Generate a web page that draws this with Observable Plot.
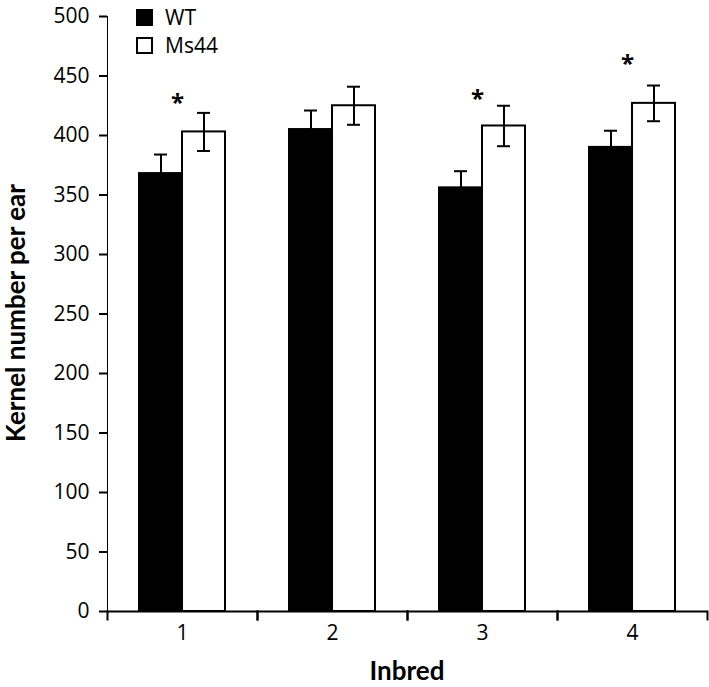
<!DOCTYPE html>
<html><head><meta charset="utf-8">
<script src="https://cdn.jsdelivr.net/npm/d3@7"></script>
<script src="https://cdn.jsdelivr.net/npm/@observablehq/plot@0.6"></script>
<style>
body{margin:0;background:#fff;}
#wrap{position:relative;width:709px;height:687px;background:#fff;}
#wrap svg{position:absolute;left:0;top:0;}
#wrap svg [aria-label^="y-axis"] path,#wrap svg [aria-label^="y-axis"] line{stroke-width:2px;stroke:#000;}
.ytitle{position:absolute;left:15px;top:313px;transform:translate(-50%,-50%) rotate(-90deg);font:bold 26px Lato;white-space:nowrap;line-height:1;color:#000;}
.xtitle{position:absolute;left:407px;top:670px;transform:translate(-50%,-50%);font:bold 26px Lato;line-height:1;white-space:nowrap;color:#000;}
.legend{position:absolute;left:136px;top:3px;font:21px "Open Sans";color:#000;}
.item{display:flex;align-items:center;height:28.5px;line-height:1;}
.sw{width:17px;height:17px;box-sizing:border-box;border:2px solid #000;margin-right:12px;}
</style></head><body><div id="wrap"></div>
<script>
const categories = ["1", "2", "3", "4"];
const series = ["WT", "Ms44"];
const wtMean = [368, 405, 356, 390];
const wtSE = [16, 16, 14, 14];
const ms44Mean = [403, 425, 408, 427];
const ms44SE = [16, 16, 17, 15];
const starCategories = ["1", "3", "4"];
const starY = [427, 430, 460];
const yTicks = [0, 50, 100, 150, 200, 250, 300, 350, 400, 450, 500];
const seriesFill = ["#000000", "#ffffff"];
const xTitle = "Inbred";
const yTitle = "Kernel number per ear";

const means = {WT: wtMean, Ms44: ms44Mean};
const ses = {WT: wtSE, Ms44: ms44SE};
const rows = categories.flatMap((c, i) => series.map(s => ({cat: c, series: s, mean: means[s][i], se: ses[s][i]})));
const stars = starCategories.map((c, i) => ({cat: c, y: starY[i]}));

const plot = Plot.plot({
  width: 709, height: 687,
  marginTop: 16, marginBottom: 76, marginLeft: 107, marginRight: 2,
  style: {fontFamily: "'Open Sans'", fontSize: "21px", color: "#000", background: "#fff"},
  fx: {domain: categories, padding: 0, axis: "bottom", label: null, tickSize: 0, tickPadding: 14},
  x: {domain: series, paddingInner: 0, paddingOuter: 0.72, axis: null},
  y: {domain: [0, 500], ticks: yTicks, tickSize: 8, tickPadding: 10, line: true, label: null},
  color: {domain: series, range: seriesFill},
  marks: [
    Plot.barY(rows, {fx: "cat", x: "series", y: "mean", fill: "series", stroke: "#000", strokeWidth: 2, inset: 0}),
    Plot.ruleX(rows, {fx: "cat", x: "series", y1: d => d.mean - d.se, y2: d => d.mean + d.se, stroke: "#000", strokeWidth: 2}),
    Plot.tickY(rows, {fx: "cat", x: "series", y: d => d.mean + d.se, inset: 15, stroke: "#000", strokeWidth: 2}),
    Plot.tickY(rows, {fx: "cat", x: "series", y: d => d.mean - d.se, inset: 15, stroke: "#000", strokeWidth: 2}),
    Plot.ruleY([0], {stroke: "#000", strokeWidth: 2}),
    Plot.frame({anchor: "left", insetTop: 595, insetBottom: -8, stroke: "#000", strokeWidth: 2}),
    Plot.frame({anchor: "right", insetTop: 595, insetBottom: -8, stroke: "#000", strokeWidth: 2}),
    Plot.text(stars, {fx: "cat", y: "y", text: () => "*", fontSize: 24, fontWeight: "bold", dx: -5, fill: "#000"})
  ]
});

const wrap = document.getElementById("wrap");
wrap.appendChild(plot);

const yt = document.createElement("div"); yt.className = "ytitle"; yt.textContent = yTitle; wrap.appendChild(yt);
const xt = document.createElement("div"); xt.className = "xtitle"; xt.textContent = xTitle; wrap.appendChild(xt);
const lg = document.createElement("div"); lg.className = "legend";
series.forEach((s, i) => {
  const it = document.createElement("div"); it.className = "item";
  const sw = document.createElement("div"); sw.className = "sw"; sw.style.background = seriesFill[i];
  const tx = document.createElement("span"); tx.textContent = s;
  it.appendChild(sw); it.appendChild(tx); lg.appendChild(it);
});
wrap.appendChild(lg);
</script></body></html>
